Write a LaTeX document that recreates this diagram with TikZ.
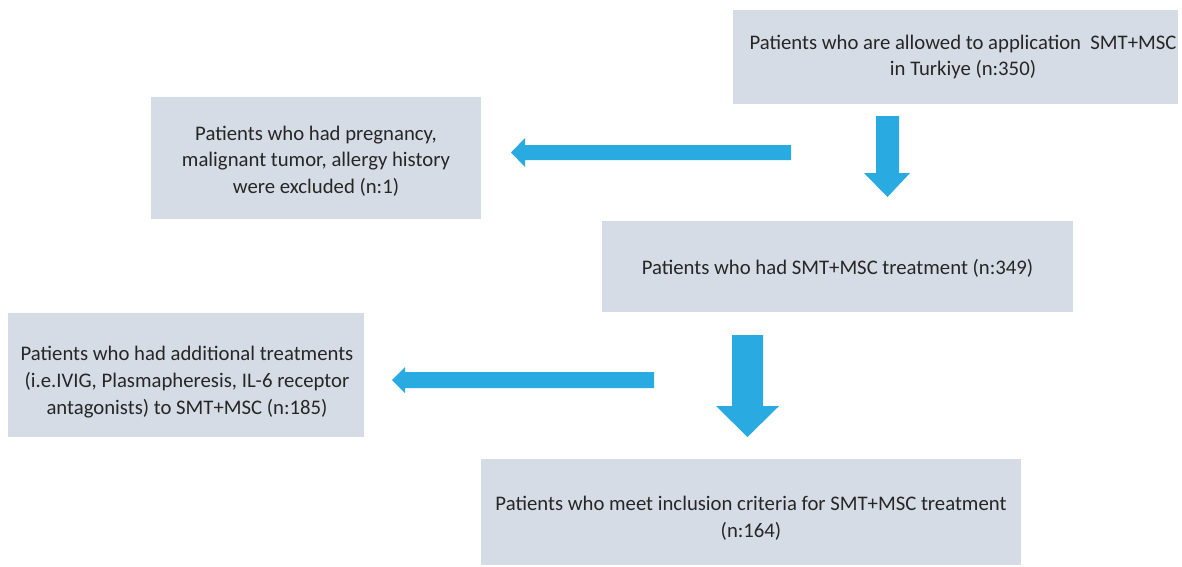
\documentclass[tikz,border=0pt]{standalone}
\usepackage{fontspec}
\setmainfont{Carlito}
\definecolor{boxfill}{HTML}{D6DCE5}
\definecolor{arrowblue}{HTML}{29ABE2}
\definecolor{textgray}{HTML}{262626}

\newcommand*{\pxw}{0.02cm}

\tikzset{
    stagebox/.style={fill=boxfill, inner sep=0pt},
    stagetext/.style={text=textgray, inner sep=0pt, align=center,
        font=\fontsize{11.8}{15.2}\selectfont},
}

\begin{document}
\begin{tikzpicture}[x=0.02cm, y=-0.02cm]
\useasboundingbox (0,0) rectangle (1182,566);

% boxes
\node[stagebox, minimum width=445*\pxw, minimum height=94*\pxw] (allowed) at (955.5,57) {};
\node[stagebox, minimum width=330*\pxw, minimum height=122*\pxw] (excluded) at (316,158) {};
\node[stagebox, minimum width=471*\pxw, minimum height=91*\pxw] (treated) at (837.5,266.5) {};
\node[stagebox, minimum width=356*\pxw, minimum height=124*\pxw] (additional) at (186,375) {};
\node[stagebox, minimum width=540*\pxw, minimum height=106*\pxw] (included) at (751,512) {};

% box texts
\node[stagetext] (allowed text) at (963,57)
    {Patients who are allowed to application\ \ SMT+MSC\\in Turkiye (n:350)};
\node[stagetext] (excluded text) at (316,161)
    {Patients who had pregnancy,\\malignant tumor, allergy history\\were excluded (n:1)};
\node[stagetext] (treated text) at (837.5,268.5)
    {Patients who had SMT+MSC treatment (n:349)};
\node[stagetext] (additional text) at (187,382)
    {Patients who had additional treatments\\(i.e.IVIG, Plasmapheresis, IL-6 receptor\\antagonists) to SMT+MSC (n:185)};
\node[stagetext] (included text) at (751,518)
    {Patients who meet inclusion criteria for SMT+MSC treatment\\(n:164)};

% block arrows, left
\fill[arrowblue] (791,145) -- (525,145) -- (525,138) -- (511,152.5) -- (525,167) -- (525,160) -- (791,160) -- cycle;
\fill[arrowblue] (654,372) -- (405,372) -- (405,367) -- (392,380) -- (405,393) -- (405,388) -- (654,388) -- cycle;

% block arrows, down
\fill[arrowblue] (876,116) -- (899,116) -- (899,173) -- (910,173) -- (887.5,197) -- (864,173) -- (876,173) -- cycle;
\fill[arrowblue] (732,335) -- (763,335) -- (763,406) -- (779,406) -- (747.5,437) -- (716,406) -- (732,406) -- cycle;

\end{tikzpicture}
\end{document}
